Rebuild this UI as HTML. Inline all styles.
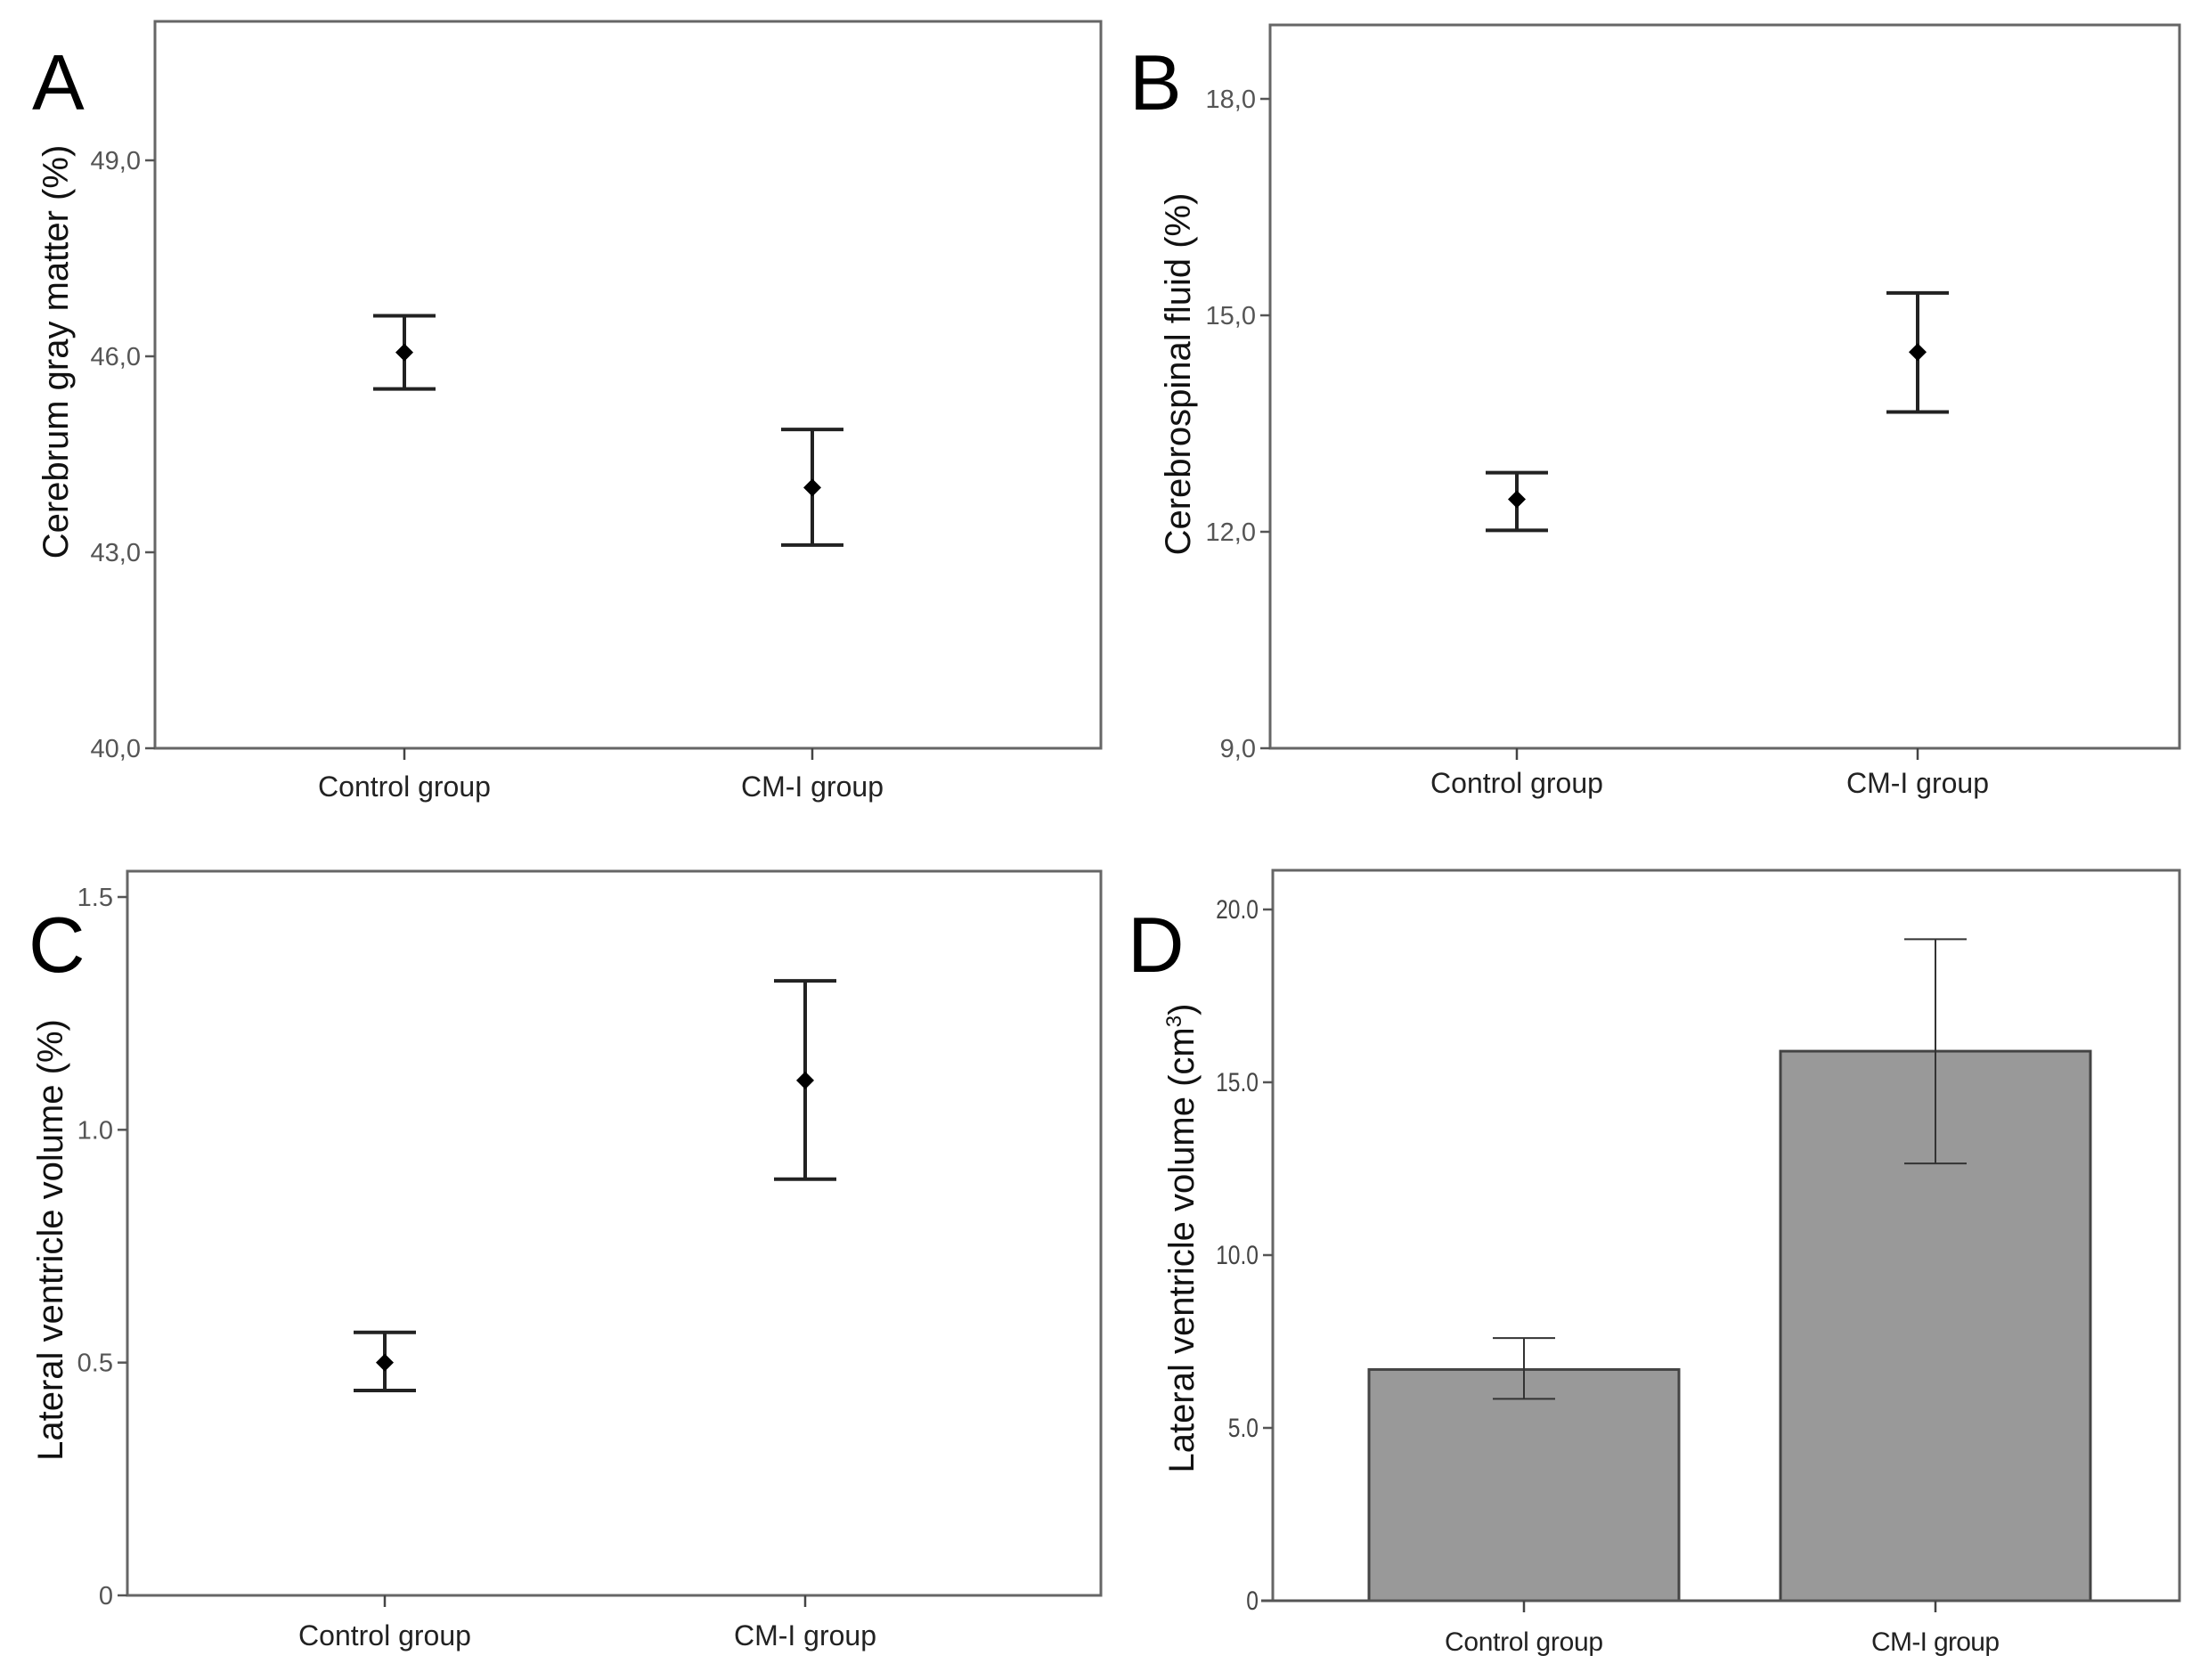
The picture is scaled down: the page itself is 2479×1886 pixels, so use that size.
<!DOCTYPE html>
<html><head><meta charset="utf-8"><style>
html,body{margin:0;padding:0;background:#fff;}
svg{display:block;font-family:"Liberation Sans",Arial,sans-serif;}
</style></head><body>
<svg id="fig" width="2479" height="1886" viewBox="0 0 2479 1886" xmlns="http://www.w3.org/2000/svg"></svg>
<script>
const categories = ["Control group", "CM-I group"];
// Panel A: cerebrum gray matter
const aMean = [46.06, 43.99];
const aHigh = [46.62, 44.88];
const aLow = [45.50, 43.11];
const aTicks = ["40,0", "43,0", "46,0", "49,0"];
const aTickVals = [40, 43, 46, 49];
// Panel B: CSF
const bMean = [12.45, 14.49];
const bHigh = [12.82, 15.31];
const bLow = [12.02, 13.66];
const bTicks = ["9,0", "12,0", "15,0", "18,0"];
const bTickVals = [9, 12, 15, 18];
// Panel C: lateral ventricle %
const cMean = [0.50, 1.106];
const cHigh = [0.565, 1.32];
const cLow = [0.44, 0.894];
const cTicks = ["0", "0.5", "1.0", "1.5"];
const cTickVals = [0, 0.5, 1.0, 1.5];
// Panel D: lateral ventricle cm3
const dMean = [6.69, 15.9];
const dHigh = [7.6, 19.14];
const dLow = [5.84, 12.65];
const dTicks = ["0", "5.0", "10.0", "15.0", "20.0"];
const dTickVals = [0, 5, 10, 15, 20];

const NS = "http://www.w3.org/2000/svg";
const svg = document.getElementById("fig");
function mk(tag, attrs, parent) {
  const e = document.createElementNS(NS, tag);
  for (const k in attrs) e.setAttribute(k, attrs[k]);
  (parent || svg).appendChild(e);
  return e;
}

function panel(cfg) {
  const g = mk("g", {});
  
  
  const y = v => cfg.y0 + (v - cfg.v0) * (cfg.y1 - cfg.y0) / (cfg.v1 - cfg.v0);
  const x = i => cfg.cx[i];
  const box = mk("rect", {x: cfg.L, y: cfg.T, width: cfg.R - cfg.L, height: cfg.B - cfg.T, fill: "none", stroke: "#666", "stroke-width": 3}, g);
  
  
  if (cfg.bars) {
    cfg.mean.forEach((m, i) => {
      const r = mk("rect", {x: x(i) - cfg.barW / 2, y: y(m), width: cfg.barW, height: y(0) - y(m), fill: "#999", stroke: "#444", "stroke-width": 3}, g);
      
      
    });
    mk("line", {x1: cfg.L - 13, x2: cfg.R, y1: cfg.B, y2: cfg.B, stroke: "#555", "stroke-width": 3}, g);
  }
  cfg.tickVals.forEach((v, i) => {
    const yy = y(v);
    mk("line", {x1: cfg.L - 11, x2: cfg.L, y1: yy, y2: yy, stroke: "#555", "stroke-width": 2.5}, g);
    const t = mk("text", {x: cfg.L - 16, y: yy + 10, "text-anchor": "end", "font-size": cfg.tfs, fill: "#555"}, g);
    if (cfg.bars) { t.setAttribute("transform", `translate(${cfg.L - 16},0) scale(0.82,1) translate(${-(cfg.L - 16)},0)`); t.setAttribute("fill", "#444"); }
    t.textContent = cfg.ticks[i];
    
    
  });
  categories.forEach((c, i) => {
    mk("line", {x1: x(i), x2: x(i), y1: cfg.B, y2: cfg.B + 13, stroke: "#444", "stroke-width": 2.5}, g);
    const t = mk("text", {x: x(i), y: cfg.xly, "text-anchor": "middle", "font-size": cfg.xfs, fill: "#222"}, g);
    if (cfg.bars) t.setAttribute("textLength", i === 0 ? 178 : 144);
    t.textContent = c;
    
    
  });
  cfg.mean.forEach((m, i) => {
    const sw = cfg.bars ? 2 : 4, col = cfg.bars ? "#333" : "#222";
    const eg = mk("g", {stroke: col, "stroke-width": sw}, g);
    
    
    mk("line", {x1: x(i), x2: x(i), y1: y(cfg.high[i]), y2: y(cfg.low[i])}, eg);
    mk("line", {x1: x(i) - 35, x2: x(i) + 35, y1: y(cfg.high[i]), y2: y(cfg.high[i])}, eg);
    mk("line", {x1: x(i) - 35, x2: x(i) + 35, y1: y(cfg.low[i]), y2: y(cfg.low[i])}, eg);
    if (!cfg.bars) {
      const d = 10, yy = y(m);
      const p = mk("polygon", {points: `${x(i)},${yy - d} ${x(i) + d},${yy} ${x(i)},${yy + d} ${x(i) - d},${yy}`, fill: "#000", stroke: "none"}, g);
      
      
    }
  });
  const yt = mk("text", {x: 0, y: 0, transform: `translate(${cfg.ytx},${cfg.yty}) rotate(-90)`, "text-anchor": "middle", "font-size": 40, fill: "#111"}, g);
  yt.innerHTML = cfg.ytitle;
  
  
  const lt = mk("text", {x: cfg.lx, y: cfg.ly, "font-size": 88, fill: "#000"}, g);
  lt.textContent = cfg.letter;
  
  
}

panel({name: "panel-a", L: 174, R: 1236, T: 24, B: 840, v0: 40, v1: 49, y0: 840, y1: 180, cx: [454, 912],
  mean: aMean, high: aHigh, low: aLow, ticks: aTicks, tickVals: aTickVals, tfs: 29, xfs: 32, xly: 894,
  ytitle: "Cerebrum gray matter (%)", ytx: 76, yty: 395, letter: "A", lx: 36, ly: 123});
panel({name: "panel-b", L: 1426, R: 2447, T: 28, B: 840, v0: 9, v1: 18, y0: 840, y1: 111, cx: [1703, 2153],
  mean: bMean, high: bHigh, low: bLow, ticks: bTicks, tickVals: bTickVals, tfs: 29, xfs: 32, xly: 890,
  ytitle: "Cerebrospinal fluid (%)", ytx: 1336, yty: 420, letter: "B", lx: 1268, ly: 123});
panel({name: "panel-c", L: 143, R: 1236, T: 978, B: 1791, v0: 0, v1: 1.5, y0: 1791, y1: 1007, cx: [432, 904],
  mean: cMean, high: cHigh, low: cLow, ticks: cTicks, tickVals: cTickVals, tfs: 29, xfs: 32, xly: 1847,
  ytitle: "Lateral ventricle volume (%)", ytx: 70, yty: 1392, letter: "C", lx: 32, ly: 1091});
panel({name: "panel-d", L: 1429, R: 2447, T: 977, B: 1797, v0: 0, v1: 20, y0: 1797, y1: 1021, cx: [1711, 2173], bars: true, barW: 348,
  mean: dMean, high: dHigh, low: dLow, ticks: dTicks, tickVals: dTickVals, tfs: 30, xfs: 30, xly: 1853,
  ytitle: 'Lateral ventricle volume (cm<tspan dy="-14" font-size="24">3</tspan><tspan dy="14">)</tspan>', ytx: 1340, yty: 1390, letter: "D", lx: 1266, ly: 1091});
</script>
</body></html>
